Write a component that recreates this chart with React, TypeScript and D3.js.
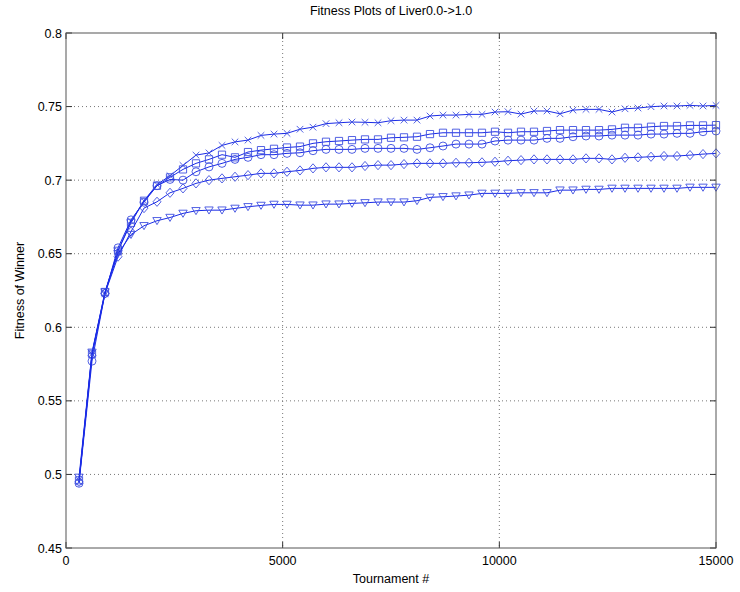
import React from "react";
import * as d3 from "d3";

const W = 740;
const H = 592;
const tournaments: number[] = Array.from({ length: 50 }, (_, i) => (i + 1) * 300);

const seriesX: number[] = [
  0.495, 0.582, 0.623, 0.652, 0.672, 0.686, 0.697, 0.703, 0.710, 0.717,
  0.7185, 0.7236, 0.726, 0.7272, 0.7304, 0.7313, 0.7318, 0.7346, 0.736, 0.7384,
  0.739, 0.7395, 0.7393, 0.739, 0.7404, 0.7408, 0.7408, 0.7436, 0.7442, 0.7442,
  0.7447, 0.7447, 0.7463, 0.7465, 0.7449, 0.747, 0.747, 0.7451, 0.7476, 0.7481,
  0.7481, 0.7463, 0.7485, 0.749, 0.7499, 0.7504, 0.7504, 0.7508, 0.7504, 0.7508,
];
const seriesSquare: number[] = [
  0.496, 0.582, 0.624, 0.652, 0.671, 0.686, 0.6962, 0.7019, 0.7073, 0.7114,
  0.7141, 0.7173, 0.7155, 0.7191, 0.7204, 0.7213, 0.7222, 0.7228, 0.725, 0.7261,
  0.7266, 0.7272, 0.7277, 0.7277, 0.7288, 0.7291, 0.7295, 0.7313, 0.7322, 0.7322,
  0.7322, 0.7322, 0.7329, 0.7322, 0.7329, 0.7329, 0.7334, 0.734, 0.734, 0.734,
  0.734, 0.7345, 0.7356, 0.7356, 0.7363, 0.7368, 0.7368, 0.7372, 0.7372, 0.7374,
];
const seriesCircle: number[] = [
  0.494, 0.577, 0.623, 0.654, 0.673, 0.685, 0.6962, 0.7005, 0.700, 0.7057,
  0.709, 0.7114, 0.7141, 0.7155, 0.7173, 0.7173, 0.7182, 0.7186, 0.72, 0.7209,
  0.7209, 0.7209, 0.7216, 0.7216, 0.7216, 0.7216, 0.7209, 0.722, 0.7232, 0.7245,
  0.7245, 0.7245, 0.7266, 0.7272, 0.7272, 0.7272, 0.7284, 0.7284, 0.7295, 0.73,
  0.73, 0.7306, 0.7306, 0.7306, 0.7313, 0.7313, 0.7318, 0.7318, 0.7329, 0.7334,
];
const seriesDiamond: number[] = [
  0.495, 0.581, 0.623, 0.648, 0.665, 0.681, 0.6853, 0.6914, 0.6944, 0.6978,
  0.700, 0.7012, 0.7023, 0.7034, 0.7046, 0.7046, 0.7057, 0.7066, 0.708, 0.7087,
  0.7087, 0.7087, 0.7096, 0.7102, 0.7102, 0.7109, 0.7114, 0.7114, 0.7114, 0.7118,
  0.7118, 0.7121, 0.7125, 0.7132, 0.7136, 0.7141, 0.7141, 0.7141, 0.7141, 0.7148,
  0.7148, 0.7141, 0.7152, 0.7155, 0.7159, 0.7164, 0.7164, 0.717, 0.7177, 0.7182,
];
const seriesTriangle: number[] = [
  0.498, 0.583, 0.624, 0.650, 0.663, 0.669, 0.6724, 0.6746, 0.6774, 0.6792,
  0.6796, 0.6796, 0.6808, 0.6819, 0.6828, 0.6835, 0.6835, 0.683, 0.683, 0.6837,
  0.6837, 0.6842, 0.6846, 0.6851, 0.6851, 0.6851, 0.686, 0.6883, 0.6887, 0.6892,
  0.6898, 0.691, 0.691, 0.691, 0.6914, 0.6914, 0.6914, 0.6932, 0.6932, 0.6937,
  0.6937, 0.6944, 0.6944, 0.6944, 0.6944, 0.6944, 0.6944, 0.6951, 0.6951, 0.6951,
];

const xTicks: number[] = [0, 5000, 10000, 15000];
const yTicks: number[] = [0.45, 0.5, 0.55, 0.6, 0.65, 0.7, 0.75, 0.8];
const yTickLabels: string[] = ["0.45", "0.5", "0.55", "0.6", "0.65", "0.7", "0.75", "0.8"];

const series = [
  { name: "x", values: seriesX },
  { name: "square", values: seriesSquare },
  { name: "circle", values: seriesCircle },
  { name: "diamond", values: seriesDiamond },
  { name: "triangle", values: seriesTriangle },
];

const LEFT = 66, RIGHT = 716, TOP = 33, BOTTOM = 548;
const BLUE = "#1a2be6";
const MARK = "#3f50e0";

function markerPath(kind: string, cx: number, cy: number): string {
  const p = d3.path();
  if (kind === "x") {
    const r = 3.3;
    p.moveTo(cx - r, cy - r); p.lineTo(cx + r, cy + r);
    p.moveTo(cx - r, cy + r); p.lineTo(cx + r, cy - r);
  } else if (kind === "square") {
    const r = 3.6;
    p.rect(cx - r, cy - r, 2 * r, 2 * r);
  } else if (kind === "circle") {
    p.moveTo(cx + 4, cy);
    p.arc(cx, cy, 4, 0, Math.PI * 2);
  } else if (kind === "diamond") {
    p.moveTo(cx, cy - 4.6); p.lineTo(cx + 4, cy); p.lineTo(cx, cy + 4.6); p.lineTo(cx - 4, cy); p.closePath();
  } else {
    p.moveTo(cx - 4.2, cy - 3.2); p.lineTo(cx + 4.2, cy - 3.2); p.lineTo(cx, cy + 3.9); p.closePath();
  }
  return p.toString();
}

export default function App() {
  const x = d3.scaleLinear().domain([0, 15000]).range([LEFT, RIGHT]);
  const y = d3.scaleLinear().domain([0.45, 0.8]).range([BOTTOM, TOP]);
  const line = d3.line<number>().x((_, i) => x(tournaments[i])).y((d) => y(d));
  const font = "Liberation Sans, Arial, Helvetica, sans-serif";

  return (
    <svg width={W} height={H} style={{ position: "absolute", left: 0, top: 0, background: "#fff" }} fontFamily={font}>
      <rect x={0} y={0} width={W} height={H} fill="#fff" />
      {/* grid */}
      {xTicks.filter((t) => t > 0 && t < 15000).map((t) => (
        <line key={"gx" + t} x1={x(t)} x2={x(t)} y1={TOP} y2={BOTTOM} stroke="#777" strokeWidth={1} strokeDasharray="1,3" />
      ))}
      {yTicks.filter((t) => t > 0.45 && t < 0.8).map((t) => (
        <line key={"gy" + t} x1={LEFT} x2={RIGHT} y1={y(t)} y2={y(t)} stroke="#777" strokeWidth={1} strokeDasharray="1,3" />
      ))}
      {/* ticks */}
      {xTicks.map((t) => (
        <g key={"tx" + t}>
          <line x1={x(t)} x2={x(t)} y1={BOTTOM} y2={BOTTOM - 6} stroke="#333" />
          <line x1={x(t)} x2={x(t)} y1={TOP} y2={TOP + 6} stroke="#333" />
          <text x={x(t)} y={BOTTOM + 17} textAnchor="middle" fontSize={12.5} fill="#000">{t}</text>
        </g>
      ))}
      {yTicks.map((t, i) => (
        <g key={"ty" + t}>
          <line x1={LEFT} x2={LEFT + 6} y1={y(t)} y2={y(t)} stroke="#333" />
          <line x1={RIGHT} x2={RIGHT - 6} y1={y(t)} y2={y(t)} stroke="#333" />
          <text x={LEFT - 4} y={y(t) + 4.5} textAnchor="end" fontSize={12.5} fill="#000">{yTickLabels[i]}</text>
        </g>
      ))}
      {/* data */}
      {series.map((s) => (
        <g key={s.name}>
          <path d={line(s.values) || ""} fill="none" stroke={BLUE} strokeWidth={1} />
          {s.values.map((v, i) => (
            <path key={i} d={markerPath(s.name, x(tournaments[i]), y(v))} fill="none" stroke={MARK} strokeWidth={0.9} />
          ))}
        </g>
      ))}
      {/* box */}
      <rect x={LEFT} y={TOP} width={RIGHT - LEFT} height={BOTTOM - TOP} fill="none" stroke="#555" strokeWidth={1} />
      {/* labels */}
      <text x={(LEFT + RIGHT) / 2} y={15} textAnchor="middle" fontSize={12.5} fill="#000">Fitness Plots of Liver0.0-&gt;1.0</text>
      <text x={(LEFT + RIGHT) / 2} y={583} textAnchor="middle" fontSize={12.5} fill="#000">Tournament #</text>
      <text transform={`translate(24,${(TOP + BOTTOM) / 2}) rotate(-90)`} textAnchor="middle" fontSize={12.5} fill="#000">Fitness of Winner</text>
    </svg>
  );
}
